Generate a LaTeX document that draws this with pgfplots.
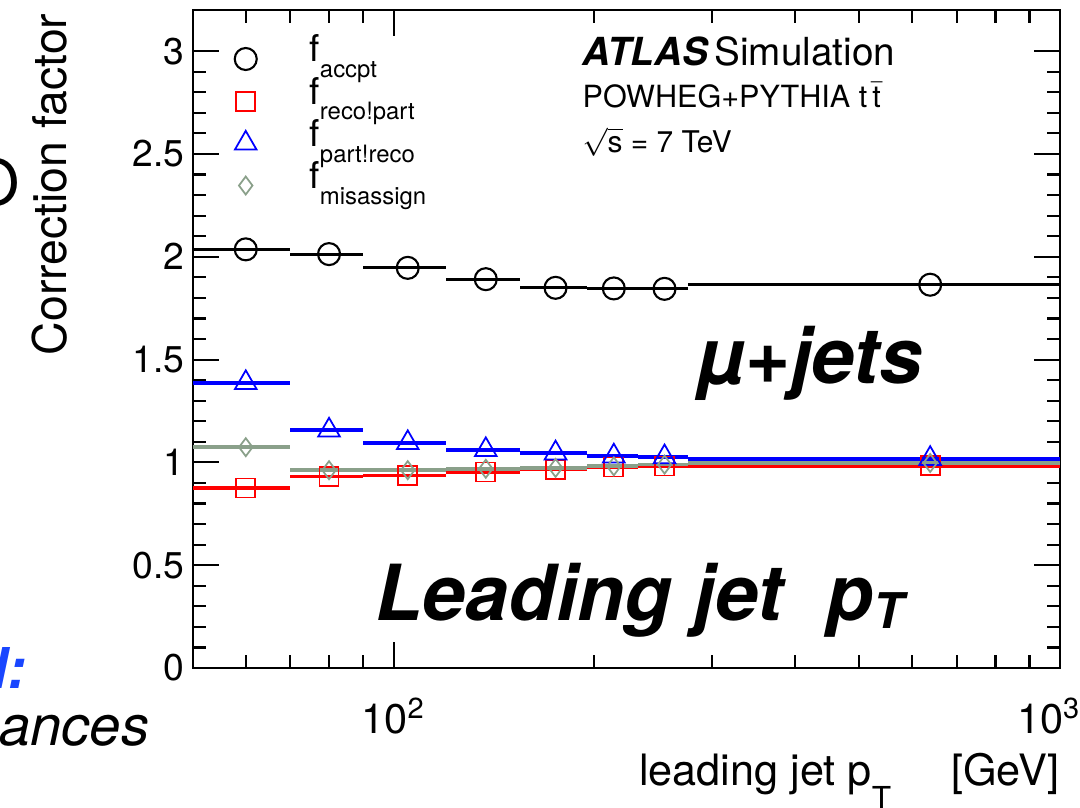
\documentclass[border=0pt]{standalone}
\usepackage{fontspec}
\setmainfont{TeX Gyre Heros}
\usepackage{pgfplots}
\pgfplotsset{compat=1.18}
\usepackage{pgfplotstable}

\definecolor{rootred}{RGB}{255,0,0}
\definecolor{rootblue}{RGB}{0,0,255}
\definecolor{rootgrey}{RGB}{138,160,138}
\definecolor{slideblue}{RGB}{25,70,255}

% bin edges lo/hi, bin centre c, value v
\pgfplotstableread{
lo hi c v
50 70 60 2.036
70 90 80 2.013
90 120 105 1.946
120 155 137.5 1.891
155 195 175 1.849
195 233 214 1.846
233 277 255 1.844
277 1000 638.5 1.864
}\accpt
\pgfplotstableread{
lo hi c v
50 70 60 0.876
70 90 80 0.931
90 120 105 0.936
120 155 137.5 0.953
155 195 175 0.965
195 233 214 0.977
233 277 255 0.982
277 1000 638.5 0.984
}\recopart
\pgfplotstableread{
lo hi c v
50 70 60 1.387
70 90 80 1.156
90 120 105 1.095
120 155 137.5 1.061
155 195 175 1.045
195 233 214 1.030
233 277 255 1.026
277 1000 638.5 1.018
}\partreco
\pgfplotstableread{
lo hi c v
50 70 60 1.074
70 90 80 0.962
90 120 105 0.962
120 155 137.5 0.969
155 195 175 0.973
195 233 214 0.981
233 277 255 0.989
277 1000 638.5 0.997
}\misassign

% legend text: f with a lowered subscript, fixed row height
\newcommand\lent[1]{\rule[-4.9pt]{0pt}{12pt}{\fontsize{10.5}{11}\selectfont f}\smash{\raisebox{-4.5pt}{\fontsize{6.8}{7}\selectfont #1}}}

\begin{document}
\begin{tikzpicture}
\begin{axis}[
  at={(19.3mm,13.9mm)}, anchor=south west,
  scale only axis, width=86.7mm, height=65.8mm,
  xmode=log, xmin=50, xmax=1000, ymin=0, ymax=3.2,
  axis line style={line width=0.6pt},
  every tick/.style={black, line width=0.6pt},
  tick align=inside,
  xtick pos=both, ytick pos=both,
  major tick length=2.6mm, minor tick length=1.3mm,
  ytick={0,0.5,1,1.5,2,2.5,3},
  yticklabels={0,0.5,1,1.5,2,2.5,3},
  minor y tick num=4,
  xtick={100,1000},
  xticklabels={10\textsuperscript{2},\hspace*{-2.2mm}10\textsuperscript{3}},
  minor xtick={60,70,80,90,200,300,400,500,600,700,800,900},
  yticklabel style={font=\fontsize{10.6}{12}\selectfont, anchor=east, inner sep=0pt, xshift=-0.8mm},
  xticklabel style={font=\fontsize{11.8}{13}\selectfont, anchor=north, inner sep=0pt, yshift=-2.9mm},
  legend style={draw=none, fill=none, at={(axis description cs:0.0473,0.9600)},
    anchor=north west, inner sep=0pt, row sep=0pt,
    nodes={inner sep=0pt, text height=7.1pt, text depth=4.9pt},
    cells={anchor=base west},
    /tikz/every odd column/.append style={column sep=5.3mm}},
  legend image post style={yshift=0.85pt},
  error bars/x dir=both, error bars/x explicit,
  error bars/error mark=none,
]
\addplot[black, only marks, mark=o, mark size=1.1mm,
  mark options={fill=white, line width=0.6pt},
  error bars/error bar style={line width=0.85pt, black}]
  table[x=c, y=v, x error plus expr=\thisrow{hi}-\thisrow{c},
        x error minus expr=\thisrow{c}-\thisrow{lo}] {\accpt};
\addlegendentry{\lent{accpt}}
\addplot[rootred, only marks, mark=square, mark size=0.95mm,
  mark options={fill=white, line width=0.5pt},
  error bars/error bar style={line width=1.05pt, rootred}]
  table[x=c, y=v, x error plus expr=\thisrow{hi}-\thisrow{c},
        x error minus expr=\thisrow{c}-\thisrow{lo}] {\recopart};
\addlegendentry{\lent{reco!part}}
\addplot[rootblue, only marks, mark=triangle, mark size=1.25mm,
  mark options={fill=white, line width=0.5pt},
  error bars/error bar style={line width=1.05pt, rootblue}]
  table[x=c, y=v, x error plus expr=\thisrow{hi}-\thisrow{c},
        x error minus expr=\thisrow{c}-\thisrow{lo}] {\partreco};
\addlegendentry{\lent{part!reco}}
\addplot[rootgrey, only marks, mark=diamond, mark size=0.9mm,
  mark options={fill=white, line width=0.5pt},
  error bars/error bar style={line width=1.05pt, rootgrey}]
  table[x=c, y=v, x error plus expr=\thisrow{hi}-\thisrow{c},
        x error minus expr=\thisrow{c}-\thisrow{lo}] {\misassign};
\addlegendentry{\lent{misassign}}
\end{axis}

\begin{scope}[x=0.1mm, y=-0.1mm, shift={(0,80.7mm)}]
  % axis titles
  \node[anchor=base east, rotate=90, inner sep=0pt, font=\fontsize{13.2}{15}\selectfont]
    at (66,13) {Correction factor};
  \node[anchor=base east, inner sep=0pt, font=\fontsize{12.3}{14}\selectfont]
    at (1060,785) {leading jet p\raisebox{-2.4mm}{\fontsize{9}{9}\selectfont T}\hspace{6mm}[GeV]};
  % ATLAS labels
  \node[anchor=base west, inner sep=0pt, font=\fontsize{11}{13}\selectfont]
    at (582,65) {{\bfseries\itshape ATLAS}\,Simulation};
  \node[anchor=base west, inner sep=0pt, font=\fontsize{8.7}{10}\selectfont]
    at (582,107) {POWHEG+PYTHIA t\,$\bar{\mbox{t}}$};
  \node[anchor=base west, inner sep=0pt, font=\fontsize{8.5}{10}\selectfont]
    at (582,152) {$\sqrt{\mbox{s}}$ = 7 TeV};
  % big labels
  \node[anchor=base west, inner sep=0pt, font=\fontsize{22}{26}\selectfont\bfseries\itshape]
    at (697,383) {µ+jets};
  \node[anchor=base west, inner sep=0pt, font=\fontsize{22}{26}\selectfont\bfseries\itshape]
    at (375,620) {Leading jet\ \ p\raisebox{-0.8mm}{\fontsize{14}{14}\selectfont T}};
  % slide fragments at the left edge
  \node[anchor=base east, inner sep=0pt, font=\fontsize{18}{20}\selectfont]
    at (20,205) {O};
  \node[anchor=base east, inner sep=0pt, text=slideblue, font=\fontsize{16}{18}\selectfont\bfseries\itshape]
    at (27,688) {d:};
  \node[anchor=base east, inner sep=0pt, font=\fontsize{16}{18}\selectfont\itshape]
    at (150,745) {ances};
\end{scope}
\pgfresetboundingbox
\useasboundingbox (0,0) rectangle (108mm,80.7mm);
\end{tikzpicture}
\end{document}
